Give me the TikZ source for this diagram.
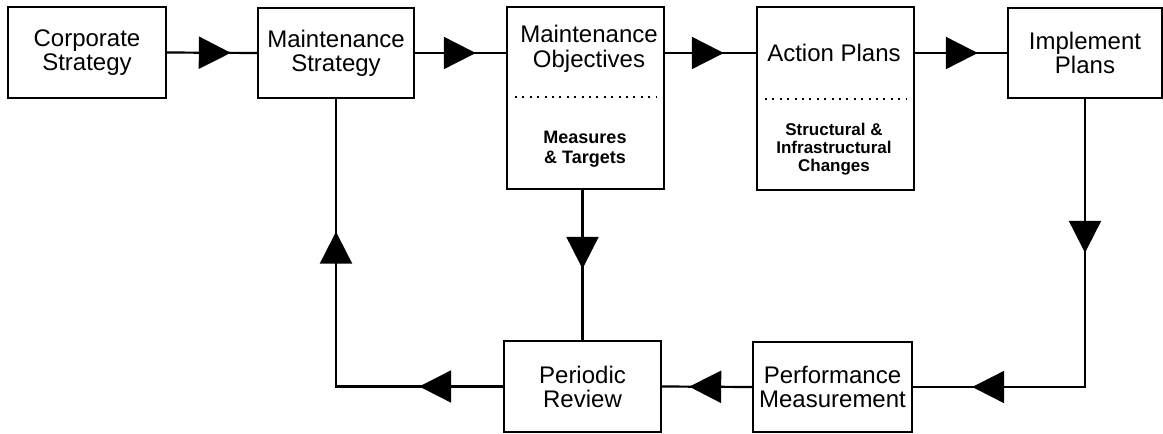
\documentclass[tikz,border=0pt]{standalone}
\usepackage{fontspec}
\setmainfont{Liberation Sans}
\usetikzlibrary{arrows.meta,decorations.markings}
\begin{document}
\begin{tikzpicture}[x=1pt,y=-1pt,
  box/.style={draw,line width=1.6pt,inner sep=0pt,align=center,font=\fontsize{24}{24}\selectfont},
  title/.style={align=center,font=\fontsize{24}{24.5}\selectfont},
  sub/.style={align=center,font=\bfseries\fontsize{18}{20}\selectfont},
  subb/.style={align=center,font=\bfseries\fontsize{17}{18}\selectfont},
  conn/.style={line width=2.2pt},
  tipat/.style={postaction={decorate,decoration={markings,mark=at position #1 with {\arrow{Triangle[length=32pt,width=32pt]}}}}},
  dots/.style={line width=2pt,dash pattern=on 2pt off 5.4pt}]
\useasboundingbox (0,0) rectangle (1163,434);
\node[box,minimum width=158pt,minimum height=91pt] (corp) at (87,52.5) {Corporate\\Strategy};
\node[box,minimum width=156pt,minimum height=90pt] (mstrat) at (336,53) {Maintenance\\Strategy};
\node[box,minimum width=157pt,minimum height=182pt] (mobj) at (585.5,98) {};
\node[box,minimum width=157pt,minimum height=183pt] (act) at (835.5,98.5) {};
\node[box,minimum width=154pt,minimum height=90pt] (impl) at (1085,53) {Implement\\Plans};
\node[box,minimum width=157pt,minimum height=91pt] (review) at (582.5,386.5) {Periodic\\Review};
\node[box,minimum width=159pt,minimum height=90pt] (perf) at (832.5,387) {Performance\\Measurement};
\node[title] (mobjT) at (589,49) {Maintenance\\Objectives};
\node[sub] (mobjS) at (585,149) {Measures\\\& Targets};
\node[title] (actT) at (834,53) {Action Plans};
\node[subb] (actS) at (834,149) {Structural \&\\Infrastructural\\Changes};
\draw[dots] (515,97) coordinate (d1) -- (657,97) coordinate (d2);
\draw[dots] (765,99) coordinate (d3) -- (907,99) coordinate (d4);
\draw[conn,tipat=64pt] (corp.east) -- (mstrat.west);
\draw[conn,tipat=61pt] (mstrat.east) -- (mobj.west |- mstrat.east);
\draw[conn,tipat=59pt] (mobj.east |- mstrat.east) -- (act.west |- mstrat.east);
\draw[conn,tipat=63pt] (act.east |- impl.west) -- (impl.west);
\draw[conn,tipat=154pt,tipat=401pt] (impl.south) |- (perf.east);
\draw[conn,tipat=63pt] (perf.west) -- (review.east);
\draw[conn,tipat=79pt] (mobj.south -| review.north) -- (review.north);
\draw[conn,tipat=84pt,tipat=322pt] (review.west) -| (mstrat.south);
\end{tikzpicture}
\end{document}
